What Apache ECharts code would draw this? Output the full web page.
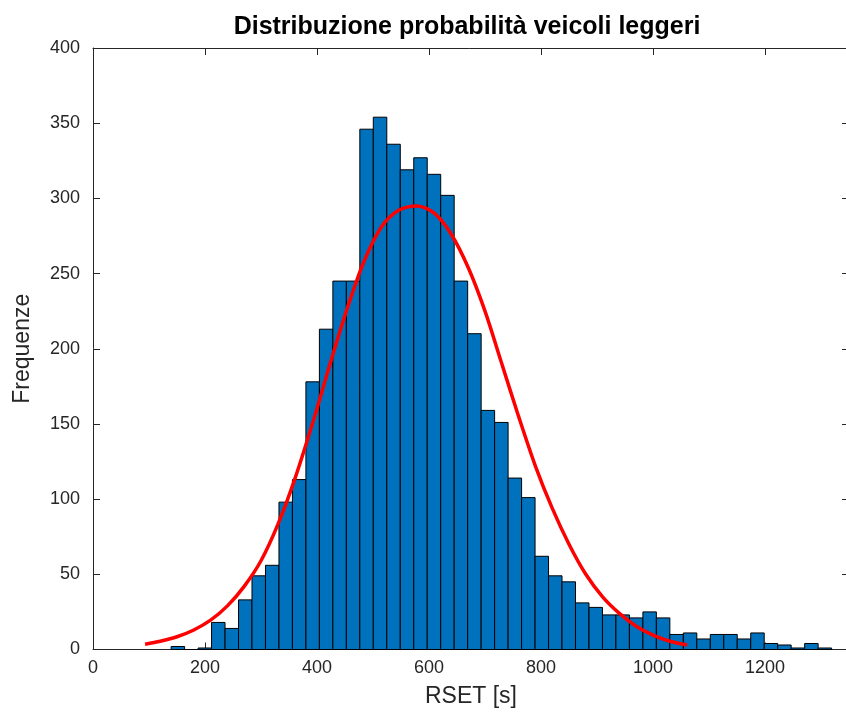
<!DOCTYPE html>
<html>
<head>
<meta charset="utf-8">
<script src="https://cdn.jsdelivr.net/npm/echarts@6/dist/echarts.min.js"></script>
<style>
html,body{margin:0;padding:0;background:#fff;overflow:hidden;}
#chart{width:846px;height:722px;}
</style>
</head>
<body>
<div id="chart"></div>
<script>
// ---- data ----
var titleText = 'Distribuzione probabilità veicoli leggeri';
var xLabel = 'RSET [s]';
var yLabel = 'Frequenze';

// histogram bins: first edge and bin width (s)
var binStart = 139.5;
var binWidth = 24.07;
// counts per bin (left to right)
var counts = [2,0,1,18,14,33,49,56,98,113,178,213,245,245,346,354,336,319,327,316,302,245,210,159,151,114,101,62,49,45,31,28,23,23,21,25,21,10,11,7,10,10,7,11,4,3,1,4,1];

// fitted normal curve
var curveX = [93,120,150,180,210,240,270,300,330,360,395,425,455,485,515,545,579,610,640,670,700,730,760,790,820,850,880,910,940,970,1000,1030,1061];
var curveY = [3.5,5.5,8.5,13,19.5,29,42,59,83,113,154,192,228,259,281,292,295,290,276,254,225,190,155,122,94,70,50,35,24,15.5,9.5,5.5,3];

var xTicks = [0,1350,200];   // min, max, interval
var yTicks = [0,400,50];

// ---- build ----
var barData = counts.map(function(c,i){
  return [binStart + i*binWidth, binStart + (i+1)*binWidth, c];
});
var lineData = curveX.map(function(x,i){ return [x, curveY[i]]; });

var axisColor = '#262626';
var font = 'Liberation Sans, Arial, Helvetica, sans-serif';

function xAx(pos, showLabel){
  return {
    type:'value', position:pos, min:xTicks[0], max:xTicks[1], interval:xTicks[2],
    axisLine:{show:true, onZero:false, lineStyle:{color:axisColor,width:1}},
    axisTick:{show:true, inside:true, length:7, lineStyle:{color:axisColor}},
    axisLabel:{show:showLabel, color:axisColor, fontSize:18, fontFamily:font, margin:10,
      formatter:function(v){ return v>1200 ? '' : v; }},
    splitLine:{show:false},
    name: showLabel ? xLabel : '',
    nameLocation:'middle', nameGap:36,
    nameTextStyle:{color:axisColor, fontSize:23, fontFamily:font}
  };
}
function yAx(pos, showLabel){
  return {
    type:'value', position:pos, min:yTicks[0], max:yTicks[1], interval:yTicks[2],
    axisLine:{show:true, onZero:false, lineStyle:{color:axisColor,width:1}},
    axisTick:{show:true, inside:true, length:7, lineStyle:{color:axisColor}},
    axisLabel:{show:showLabel, color:axisColor, fontSize:18, fontFamily:font, margin:13},
    splitLine:{show:false},
    name: showLabel ? yLabel : '',
    nameLocation:'middle', nameGap:59,
    nameTextStyle:{color:axisColor, fontSize:23, fontFamily:font}
  };
}

var chart = echarts.init(document.getElementById('chart'), null, {renderer:'canvas'});
chart.setOption({
  animation:false,
  backgroundColor:'#ffffff',
  title:{
    text:titleText, left:462, top:10, textAlign:'center',
    textStyle:{color:'#000', fontSize:25, fontWeight:'bold', fontFamily:font}
  },
  grid:{left:93, top:48, width:756, height:601.5, containLabel:false, outerBoundsMode:'none'},
  xAxis:[xAx('bottom', true), xAx('top', false)],
  yAxis:[yAx('left', true), yAx('right', false)],
  series:[
    {
      type:'custom', xAxisIndex:0, yAxisIndex:0,
      data:barData,
      renderItem:function(params, api){
        var p0 = api.coord([api.value(0), api.value(2)]);
        var p1 = api.coord([api.value(1), 0]);
        return {
          type:'rect',
          shape:{x:p0[0], y:p0[1], width:p1[0]-p0[0], height:p1[1]-p0[1]},
          style:{fill:'#0072BD', stroke:'#000000', lineWidth:1}
        };
      },
      encode:{x:[0,1], y:2}
    },
    {
      type:'line', xAxisIndex:0, yAxisIndex:0,
      data:lineData, smooth:0.3, showSymbol:false, symbol:'none',
      lineStyle:{color:'#FF0000', width:3.5}, z:5
    }
  ]
});
</script>
</body>
</html>
